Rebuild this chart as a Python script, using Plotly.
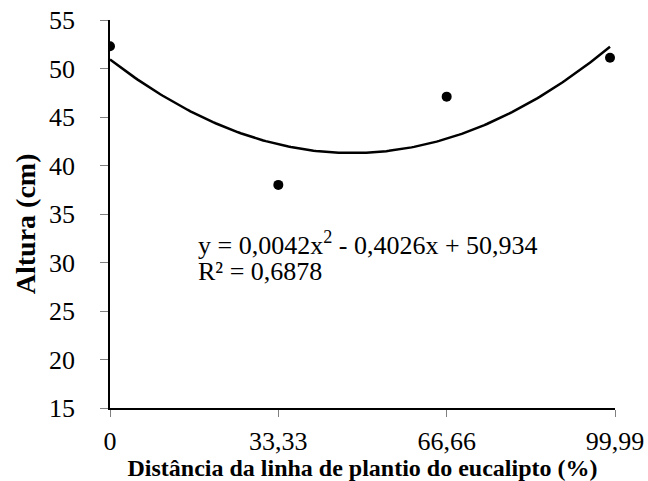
import numpy as np
import plotly.graph_objects as go

# Data
x_vals = [0, 33.33, 66.66, 99]
y_vals = [52.3, 38.0, 47.1, 51.1]
x_ticks = [0, 33.33, 66.66, 99.99]
x_tick_labels = ["0", "33,33", "66,66", "99,99"]
y_ticks = [15, 20, 25, 30, 35, 40, 45, 50, 55]
# Trendline coefficients (from the equation shown on the chart)
trend_coeffs = [0.0042, -0.4026, 50.934]
equation_lines = ["y = 0,0042x<sup>2</sup> - 0,4026x + 50,934", "R² = 0,6878"]

FONT = "Liberation Serif"

xs = np.linspace(0, 99, 200)
ys = np.polyval(trend_coeffs, xs)

fig = go.Figure()
fig.add_trace(go.Scatter(x=xs, y=ys, mode="lines",
                         line=dict(color="black", width=2.5),
                         hoverinfo="skip", showlegend=False))
fig.add_trace(go.Scatter(x=x_vals, y=y_vals, mode="markers",
                         marker=dict(color="black", size=10),
                         showlegend=False))

for txt, yy in zip(equation_lines, [31.95, 29.05]):
    fig.add_annotation(x=17.0, y=yy, xref="x", yref="y", xanchor="left", yanchor="middle",
                       align="left", showarrow=False, text=txt,
                       font=dict(family=FONT, size=26, color="black"))

# Y-axis title placed as a rotated annotation
fig.add_annotation(x=-0.168, y=0.474, xref="paper", yref="paper",
                   xanchor="center", yanchor="middle", textangle=-90, showarrow=False,
                   text="<b>Altura (cm)</b>",
                   font=dict(family=FONT, size=28, color="black"))

fig.update_layout(
    width=648, height=481,
    margin=dict(l=110, r=33, t=20, b=73),
    paper_bgcolor="white", plot_bgcolor="white",
    font=dict(family=FONT, color="black"),
    xaxis=dict(range=[0, 99.99], tickvals=x_ticks, ticktext=x_tick_labels, automargin=False,
               showgrid=False, zeroline=False, showline=True, linecolor="black", linewidth=1.5,
               ticks="outside", ticklen=7, tickcolor="#808080", tickwidth=1,
               ticklabelstandoff=2,
               tickfont=dict(family=FONT, size=26, color="black"),
               title=dict(text="<b>Distância da linha de plantio do eucalipto (%)</b>",
                          font=dict(family=FONT, size=24, color="black"), standoff=5)),
    yaxis=dict(range=[15, 55], tickvals=y_ticks, automargin=False,
               showgrid=False, zeroline=False, showline=True, linecolor="black", linewidth=1.5,
               ticks="outside", ticklen=8, tickcolor="#808080", tickwidth=1,
               ticklabelstandoff=20,
               tickfont=dict(family=FONT, size=26, color="black")),
)

fig.write_html("out.html", config={"displayModeBar": False},
               post_script="document.body.style.margin='0';")
